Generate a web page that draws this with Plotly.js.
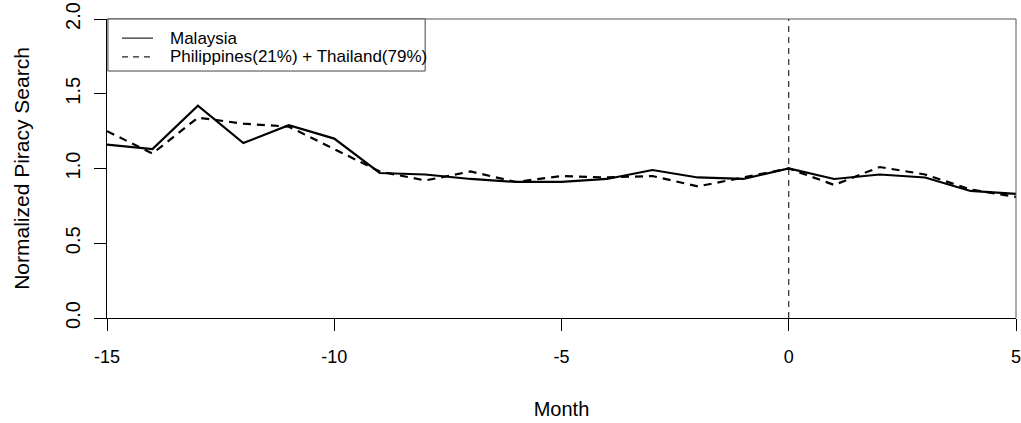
<!DOCTYPE html>
<html>
<head>
<meta charset="utf-8">
<script src="https://cdn.plot.ly/plotly-3.0.1.min.js"></script>
<style>html,body{margin:0;padding:0;background:#fff;}#chart{width:1021px;height:423px;}</style>
</head>
<body>
<div id="chart"></div>
<script>
const months = [-15,-14,-13,-12,-11,-10,-9,-8,-7,-6,-5,-4,-3,-2,-1,0,1,2,3,4,5];
const malaysia = [1.16,1.13,1.42,1.17,1.29,1.20,0.97,0.96,0.93,0.91,0.91,0.93,0.99,0.94,0.93,1.00,0.93,0.96,0.94,0.85,0.83];
const synthetic = [1.25,1.10,1.34,1.30,1.28,1.13,0.98,0.92,0.98,0.91,0.95,0.94,0.95,0.88,0.94,1.00,0.89,1.01,0.96,0.86,0.81];
const seriesNames = ["Malaysia", "Philippines(21%) + Thailand(79%)"];
const xTicks = [-15,-10,-5,0,5];
const yTicks = [0,0.5,1,1.5,2];
const yTickText = ["0.0","0.5","1.0","1.5","2.0"];
const treatmentMonth = 0;

const font = "Liberation Sans, Arial, sans-serif";
const traces = [
  {x: months, y: malaysia, name: seriesNames[0], type: "scatter", mode: "lines",
   line: {color: "#000", width: 2.2}},
  {x: months, y: synthetic, name: seriesNames[1], type: "scatter", mode: "lines",
   line: {color: "#000", width: 2.2, dash: "8px,6px"}}
];

// Manual legend (R-style box)
const legRowsY = [0.936, 0.873];
const legDash = ["solid", "6px,5px"];
const legendShapes = [
  {type: "rect", xref: "paper", yref: "paper", x0: 0.001, x1: 0.35, y0: 0.826, y1: 1,
   line: {color: "#444", width: 1}, fillcolor: "#fff", layer: "above"}
];
const legendAnnots = [];
seriesNames.forEach((n, i) => {
  legendShapes.push({type: "line", xref: "paper", yref: "paper", x0: 0.0165, x1: 0.0506,
    y0: legRowsY[i], y1: legRowsY[i], line: {color: "#222", width: 1.2, dash: legDash[i]}, layer: "above"});
  legendAnnots.push({xref: "paper", yref: "paper", x: 0.0671, y: legRowsY[i], xanchor: "left", yanchor: "middle",
    text: n, showarrow: false, font: {family: font, size: 17, color: "#000"}});
});

const layout = {
  width: 1021, height: 423,
  margin: {l: 107, r: 5, t: 19, b: 105},
  paper_bgcolor: "#fff", plot_bgcolor: "#fff",
  showlegend: false,
  xaxis: {range: [-15, 5], tickvals: xTicks, ticktext: xTicks.map(String),
          showgrid: false, zeroline: false, showline: true, linecolor: "#000", linewidth: 1,
          ticks: "outside", ticklen: 12, tickcolor: "#000", tickwidth: 1,
          ticklabelstandoff: 10, ticklabeloverflow: "allow",
          tickfont: {family: font, size: 18, color: "#000"},
          title: {text: "Month", font: {family: font, size: 20, color: "#000"}, standoff: 36}},
  yaxis: {range: [0, 2], tickvals: yTicks, ticktext: yTickText, tickangle: -90,
          showgrid: false, zeroline: false, showline: true, linecolor: "#000", linewidth: 1,
          ticks: "outside", ticklen: 12, tickcolor: "#000", tickwidth: 1,
          ticklabelstandoff: 6, ticklabeloverflow: "allow",
          tickfont: {family: font, size: 20, color: "#000"},
          title: {text: "Normalized Piracy Search", font: {family: font, size: 21, color: "#000"}, standoff: 26}},
  annotations: legendAnnots,
  shapes: [
    {type: "line", xref: "x", yref: "paper", x0: treatmentMonth, x1: treatmentMonth, y0: 0, y1: 1,
     line: {color: "#000", width: 1, dash: "6px,5px"}},
    {type: "line", xref: "paper", yref: "paper", x0: 0, x1: 1, y0: 1, y1: 1,
     line: {color: "#555", width: 1}},
    {type: "line", xref: "paper", yref: "paper", x0: 1, x1: 1, y0: 0, y1: 1,
     line: {color: "#555", width: 1}}
  ].concat(legendShapes)
};
Plotly.newPlot("chart", traces, layout, {staticPlot: true, displayModeBar: false});
</script>
</body>
</html>
